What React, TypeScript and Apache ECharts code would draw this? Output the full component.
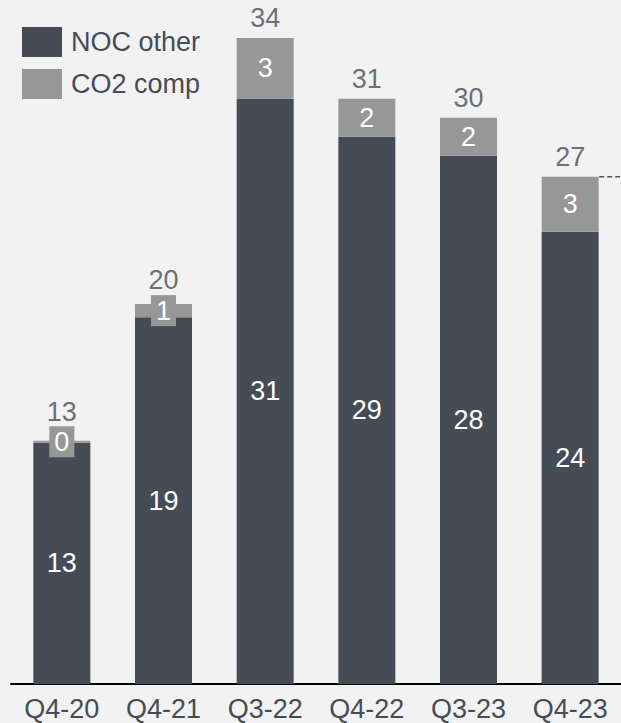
import React, { useEffect, useRef } from "react";
import * as echarts from "echarts";

const categories = ["Q4-20", "Q4-21", "Q3-22", "Q4-22", "Q3-23", "Q4-23"];
const nocOther = [12.7, 19.3, 30.8, 28.8, 27.8, 23.8];
const co2Comp = [0.1, 0.7, 3.2, 2.0, 2.0, 2.9];
const totalLabelLift = [-9, -4, 0, 0, 0, 0];

const DARK = "#464c55";
const GRAY = "#979797";
const TEXT = "#464c55";
const FONT = "'Liberation Sans', Arial, sans-serif";

export default function App() {
  const ref = useRef<HTMLDivElement>(null);
  useEffect(() => {
    if (!ref.current) return;
    const chart = echarts.init(ref.current, null, { renderer: "svg" });
    const totals = nocOther.map((v, i) => v + co2Comp[i]);
    chart.setOption({
      animation: false,
      backgroundColor: "#f2f2f2",
      textStyle: { fontFamily: FONT },
      legend: {
        orient: "vertical",
        left: 22,
        top: 27,
        padding: 0,
        itemWidth: 40,
        itemHeight: 30,
        itemGap: 12,
        icon: "rect",
        data: ["NOC other", "CO2 comp"],
        textStyle: { fontSize: 27, color: TEXT, fontFamily: FONT, padding: [0, 0, 0, 4] },
      },
      grid: { left: 11, right: -9, top: 0, bottom: 39, containLabel: false },
      xAxis: {
        type: "category",
        data: categories,
        axisLine: { show: true, lineStyle: { color: "#000", width: 2 } },
        axisTick: { show: false },
        axisLabel: { fontSize: 27, color: TEXT, margin: 11, fontFamily: FONT },
      },
      yAxis: {
        type: "value",
        min: 0,
        max: 36,
        show: false,
        splitLine: { show: false },
      },
      series: [
        {
          name: "NOC other",
          type: "bar",
          stack: "t",
          barWidth: 57,
          data: nocOther,
          itemStyle: { color: DARK },
          label: {
            show: true,
            position: "inside",
            color: "#fff",
            fontSize: 27,
            fontFamily: FONT,
            formatter: (p: any) => String(Math.round(p.value)),
          },
        },
        {
          name: "CO2 comp",
          type: "bar",
          stack: "t",
          barWidth: 57,
          data: co2Comp,
          itemStyle: { color: GRAY },
          label: {
            show: true,
            position: "inside",
            color: "#fff",
            fontSize: 27,
            fontFamily: FONT,
            backgroundColor: GRAY,
            padding: [2, 5],
            formatter: (p: any) => String(Math.round(p.value)),
          },
        },
        {
          name: "total",
          type: "scatter",
          symbolSize: 1,
          itemStyle: { color: "rgba(0,0,0,0)" },
          data: totals.map((v, i) => ({
            value: v,
            label: { offset: [0, totalLabelLift[i]] },
          })),
          label: {
            show: true,
            position: "top",
            distance: 6,
            color: TEXT,
            fontSize: 27,
            fontFamily: FONT,
            formatter: (p: any) => String(Math.round(p.value)),
          },
        },
      ],
    });
    const last = categories.length - 1;
    const p = chart.convertToPixel({ seriesIndex: 0 }, [last, totals[last]]) as number[];
    if (p) {
      chart.setOption({
        graphic: [
          {
            type: "line",
            shape: { x1: p[0] + 29, y1: p[1], x2: 640, y2: p[1] },
            style: { stroke: "#50565e", lineWidth: 1.5, lineDash: [5, 3] },
          },
        ],
      });
    }
    return () => chart.dispose();
  }, []);
  return (
    <div
      ref={ref}
      style={{ position: "absolute", left: 0, top: 0, width: 621, height: 723 }}
    />
  );
}
